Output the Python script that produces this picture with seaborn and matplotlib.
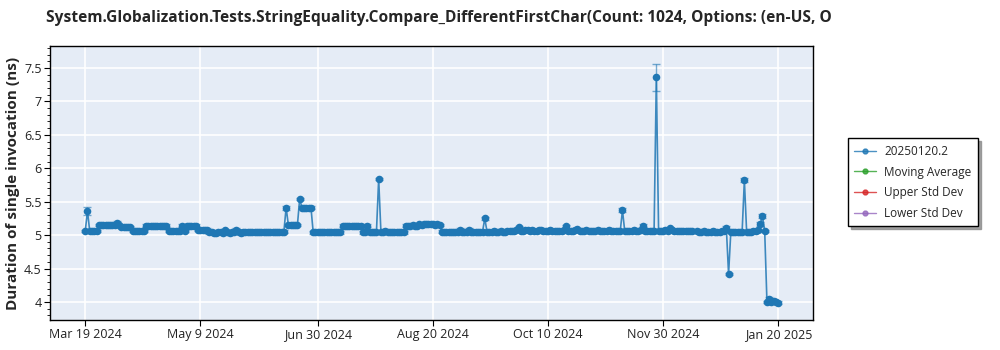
import numpy as np
import pandas as pd
import matplotlib
matplotlib.use("Agg")
import matplotlib.pyplot as plt
import seaborn as sns
from matplotlib.lines import Line2D
from matplotlib.ticker import MultipleLocator, FixedLocator

# ---------------- data ----------------
START_DATE = "2024-03-19"   # first run, one value per day
values = [
    5.06, 5.36, 5.06, 5.06, 5.06, 5.06, 5.15, 5.15, 5.15, 5.15,
    5.15, 5.15, 5.15, 5.15, 5.18, 5.15, 5.12, 5.12, 5.12, 5.12,
    5.12, 5.06, 5.06, 5.06, 5.06, 5.06, 5.06, 5.14, 5.14, 5.14,
    5.14, 5.14, 5.14, 5.14, 5.14, 5.14, 5.14, 5.06, 5.06, 5.06,
    5.06, 5.06, 5.06, 5.14, 5.06, 5.14, 5.14, 5.14, 5.14, 5.14,
    5.08, 5.08, 5.08, 5.08, 5.08, 5.04, 5.04, 5.03, 5.03, 5.04,
    5.04, 5.03, 5.07, 5.04, 5.03, 5.04, 5.04, 5.08, 5.04, 5.03,
    5.04, 5.05, 5.05, 5.05, 5.05, 5.05, 5.05, 5.05, 5.05, 5.05,
    5.05, 5.05, 5.05, 5.04, 5.05, 5.05, 5.04, 5.05, 5.05, 5.41,
    5.15, 5.15, 5.15, 5.15, 5.15, 5.54, 5.41, 5.41, 5.41, 5.41,
    5.41, 5.04, 5.04, 5.04, 5.04, 5.04, 5.04, 5.04, 5.04, 5.04,
    5.04, 5.04, 5.04, 5.04, 5.14, 5.14, 5.14, 5.14, 5.14, 5.14,
    5.14, 5.14, 5.14, 5.04, 5.04, 5.14, 5.04, 5.04, 5.04, 5.04,
    5.84, 5.04, 5.04, 5.06, 5.04, 5.04, 5.04, 5.04, 5.04, 5.04,
    5.04, 5.04, 5.14, 5.14, 5.14, 5.15, 5.14, 5.14, 5.16, 5.15,
    5.16, 5.16, 5.16, 5.16, 5.16, 5.15, 5.16, 5.15, 5.05, 5.04,
    5.04, 5.05, 5.04, 5.04, 5.05, 5.04, 5.08, 5.05, 5.04, 5.05,
    5.08, 5.05, 5.04, 5.05, 5.05, 5.04, 5.05, 5.25, 5.05, 5.05,
    5.05, 5.06, 5.05, 5.05, 5.06, 5.05, 5.05, 5.06, 5.06, 5.06,
    5.06, 5.07, 5.12, 5.06, 5.06, 5.07, 5.08, 5.06, 5.07, 5.06,
    5.06, 5.07, 5.08, 5.06, 5.06, 5.06, 5.07, 5.06, 5.06, 5.06,
    5.06, 5.06, 5.07, 5.13, 5.06, 5.06, 5.06, 5.07, 5.09, 5.06,
    5.06, 5.06, 5.07, 5.06, 5.06, 5.06, 5.06, 5.07, 5.06, 5.06,
    5.06, 5.06, 5.07, 5.06, 5.06, 5.06, 5.06, 5.06, 5.37, 5.06,
    5.06, 5.06, 5.06, 5.07, 5.06, 5.06, 5.07, 5.14, 5.06, 5.06,
    5.06, 5.06, 5.06, 7.36, 5.06, 5.06, 5.06, 5.07, 5.06, 5.10,
    5.07, 5.06, 5.06, 5.06, 5.06, 5.06, 5.06, 5.06, 5.06, 5.06,
    None, 5.06, 5.05, 5.05, 5.06, 5.05, 5.05, 5.05, 5.06, 5.05,
    5.05, 5.05, 5.06, 5.06, 5.11, 4.42, 5.05, 5.05, 5.05, 5.05,
    5.05, 5.05, 5.82, 5.05, 5.05, 5.05, 5.06, 5.06, 5.07, 5.17,
    5.28, 5.06, 4.00, 4.05, 4.00, 4.02, 4.00, 3.99,
]
errors = [
    0.02, 0.06, 0.02, 0.02, 0.02, 0.02, 0.02, 0.02, 0.02, 0.02,
    0.02, 0.02, 0.02, 0.02, 0.03, 0.02, 0.02, 0.02, 0.02, 0.02,
    0.02, 0.02, 0.02, 0.02, 0.02, 0.02, 0.02, 0.02, 0.02, 0.02,
    0.02, 0.02, 0.02, 0.02, 0.02, 0.02, 0.02, 0.02, 0.02, 0.02,
    0.02, 0.02, 0.02, 0.02, 0.02, 0.02, 0.02, 0.02, 0.02, 0.02,
    0.02, 0.02, 0.02, 0.02, 0.02, 0.02, 0.02, 0.02, 0.02, 0.02,
    0.02, 0.02, 0.02, 0.02, 0.02, 0.02, 0.02, 0.02, 0.02, 0.02,
    0.02, 0.02, 0.02, 0.02, 0.02, 0.02, 0.02, 0.02, 0.02, 0.02,
    0.02, 0.02, 0.02, 0.02, 0.02, 0.02, 0.02, 0.02, 0.02, 0.03,
    0.02, 0.02, 0.02, 0.02, 0.02, 0.02, 0.02, 0.02, 0.02, 0.02,
    0.02, 0.02, 0.02, 0.02, 0.02, 0.02, 0.02, 0.02, 0.02, 0.02,
    0.02, 0.02, 0.02, 0.02, 0.02, 0.02, 0.02, 0.02, 0.02, 0.02,
    0.02, 0.02, 0.02, 0.02, 0.02, 0.02, 0.02, 0.02, 0.02, 0.02,
    0.02, 0.02, 0.02, 0.02, 0.02, 0.02, 0.02, 0.02, 0.02, 0.02,
    0.02, 0.02, 0.02, 0.02, 0.02, 0.02, 0.02, 0.02, 0.02, 0.02,
    0.02, 0.02, 0.02, 0.02, 0.02, 0.02, 0.02, 0.02, 0.02, 0.02,
    0.02, 0.02, 0.02, 0.02, 0.02, 0.02, 0.02, 0.02, 0.02, 0.02,
    0.02, 0.02, 0.02, 0.02, 0.02, 0.02, 0.02, 0.02, 0.02, 0.02,
    0.02, 0.02, 0.02, 0.02, 0.02, 0.02, 0.02, 0.02, 0.02, 0.02,
    0.02, 0.02, 0.02, 0.02, 0.02, 0.02, 0.02, 0.02, 0.02, 0.02,
    0.02, 0.02, 0.02, 0.02, 0.02, 0.02, 0.02, 0.02, 0.02, 0.02,
    0.02, 0.02, 0.02, 0.02, 0.02, 0.02, 0.02, 0.02, 0.02, 0.02,
    0.02, 0.02, 0.02, 0.02, 0.02, 0.02, 0.02, 0.02, 0.02, 0.02,
    0.02, 0.02, 0.02, 0.02, 0.02, 0.02, 0.02, 0.02, 0.03, 0.02,
    0.02, 0.02, 0.02, 0.02, 0.02, 0.02, 0.02, 0.02, 0.02, 0.02,
    0.02, 0.02, 0.02, 0.20, 0.02, 0.02, 0.02, 0.02, 0.02, 0.02,
    0.02, 0.02, 0.02, 0.02, 0.02, 0.02, 0.02, 0.02, 0.02, 0.02,
    None, 0.02, 0.02, 0.02, 0.02, 0.02, 0.02, 0.02, 0.02, 0.02,
    0.02, 0.02, 0.02, 0.02, 0.02, 0.01, 0.02, 0.02, 0.02, 0.02,
    0.02, 0.02, 0.03, 0.02, 0.02, 0.02, 0.02, 0.02, 0.02, 0.03,
    0.03, 0.02, 0.02, 0.02, 0.02, 0.02, 0.02, 0.02,
]
series_names = ["20250120.2", "Moving Average", "Upper Std Dev", "Lower Std Dev"]
series_colors = ["#1f77b4", "#2ca02c", "#d62728", "#9467bd"]
x_tick_labels = ["Mar 19 2024", "May 9 2024", "Jun 30 2024", "Aug 20 2024",
                 "Oct 10 2024", "Nov 30 2024", "Jan 20 2025"]
y_ticks = [4, 4.5, 5, 5.5, 6, 6.5, 7, 7.5]
y_tick_labels = ["4", "4.5", "5", "5.5", "6", "6.5", "7", "7.5"]
title_text = ("System.Globalization.Tests.StringEquality.Compare_DifferentFirstChar"
              "(Count: 1024, Options: (en-US, O")
y_label = "Duration of single invocation (ns)"

# ---------------- frame ----------------
dates = pd.date_range(START_DATE, periods=len(values), freq="D")
df = pd.DataFrame({"date": dates,
                   "value": pd.to_numeric(pd.Series(values), errors="coerce"),
                   "err": pd.to_numeric(pd.Series(errors), errors="coerce")}).dropna()

sns.set_theme(style="darkgrid", rc={
    "axes.facecolor": "#e5ecf6",
    "grid.color": "white",
    "grid.linewidth": 1.2,
    "axes.edgecolor": "black",
    "axes.linewidth": 1.0,
})
plt.rcParams["font.family"] = ["Open Sans", "DejaVu Sans"]

fig = plt.figure(figsize=(10, 3.5), dpi=100)
ax = fig.add_axes([0.050, 0.0857, 0.763, 0.783])

blue = series_colors[0]
ax.errorbar(df["date"], df["value"], yerr=df["err"], fmt="none",
            ecolor=blue, elinewidth=1.0, capsize=3, capthick=1.0, alpha=0.6, zorder=2)
sns.lineplot(data=df, x="date", y="value", ax=ax, color=blue, linewidth=1.2,
             alpha=0.85, legend=False, zorder=3)
sns.scatterplot(data=df, x="date", y="value", ax=ax, color=blue, s=30,
                edgecolor=blue, linewidth=0, legend=False, zorder=4)

# axes
tick_dates = pd.to_datetime(x_tick_labels, format="%b %d %Y")
first, last = tick_dates[0], tick_dates[-1]
ax.set_xlim(first - pd.Timedelta(days=15.6), last + pd.Timedelta(days=15.4))
ax.set_xticks(tick_dates)
ax.set_xticklabels(x_tick_labels)
ax.set_ylim(3.73, 7.83)
ax.yaxis.set_major_locator(FixedLocator(y_ticks))
ax.set_yticklabels(y_tick_labels)
ax.yaxis.set_minor_locator(MultipleLocator(0.1))
ax.grid(True, which="major", color="white", linewidth=1.2)
ax.grid(False, which="minor")
ax.tick_params(axis="both", which="major", direction="out", length=4, width=0.8,
               color="black", labelsize=9, labelcolor="#222222", pad=2,
               bottom=True, left=True)
ax.tick_params(axis="y", which="minor", direction="out", length=2, width=0.6,
               color="black", left=True)
ax.tick_params(axis="x", which="minor", bottom=False)
for s in ax.spines.values():
    s.set_visible(True)
    s.set_color("black")
    s.set_linewidth(1.0)
ax.set_xlabel("")
ax.set_ylabel(y_label, fontsize=11, fontweight="bold", labelpad=3)

fig.text(0.046, 1 - 18 / 350, title_text, fontsize=11.2, fontweight="bold",
         ha="left", va="center")

handles = [Line2D([], [], color=c, marker="o", markersize=3.5, linewidth=1.0,
                  alpha=0.8) for c in series_colors]
leg = fig.legend(handles, series_names, loc="center left",
                 bbox_to_anchor=(0.848, 0.479), frameon=True, fancybox=False,
                 shadow={"color": "#8a8a8a", "alpha": 0.8}, edgecolor="black",
                 facecolor="white", fontsize=8.5, borderaxespad=0,
                 handlelength=1.8, handletextpad=0.7, labelspacing=0.65,
                 borderpad=0.55)
leg.get_frame().set_linewidth(1.0)

fig.savefig("out.png", dpi=100)
